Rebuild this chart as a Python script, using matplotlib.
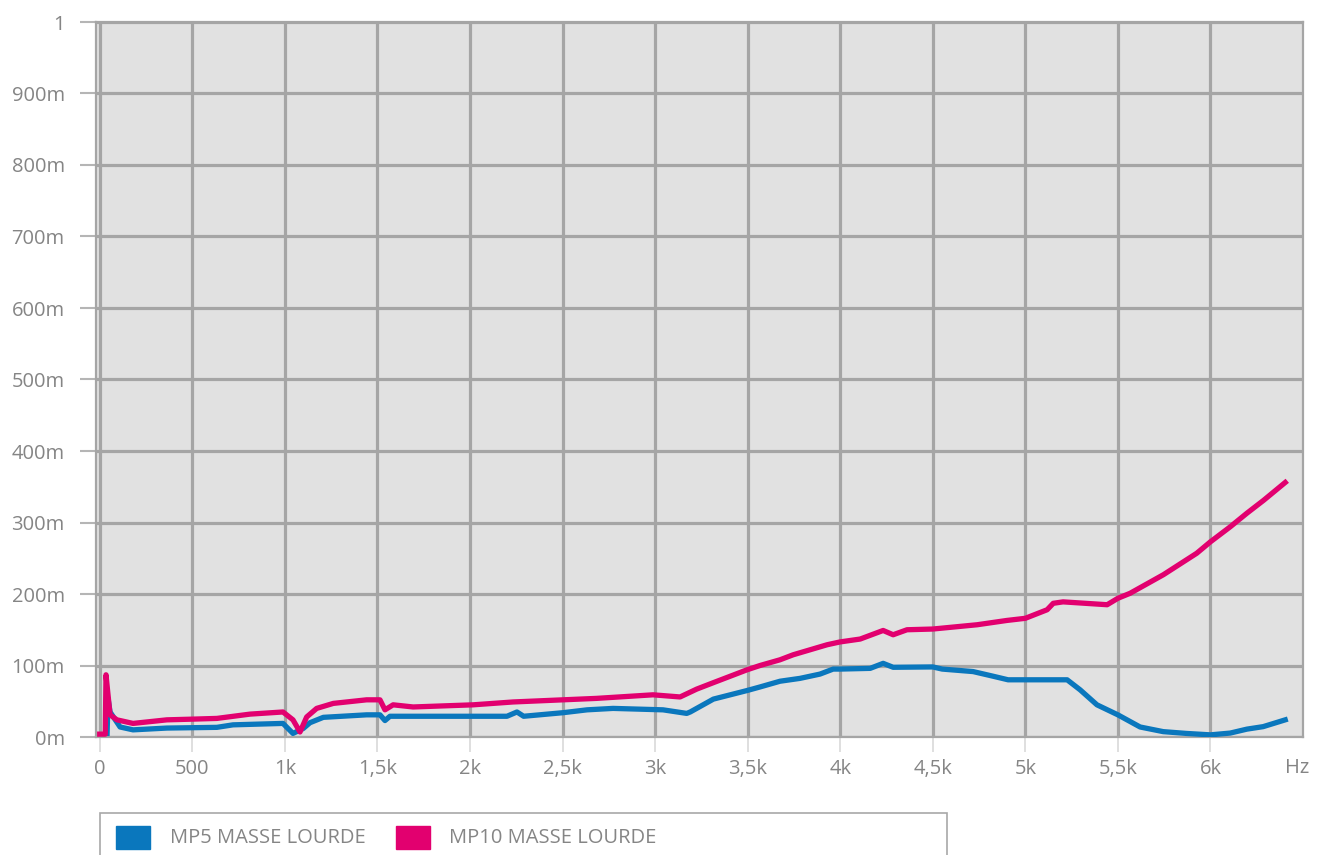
import matplotlib.pyplot as plt
from matplotlib.patches import Rectangle

plt.rcParams['font.family'] = ['Open Sans', 'DejaVu Sans']

# Données (Hz, valeur)
freq_mp5 = [40, 45, 56, 110, 180, 363, 633, 720, 990, 1044,
            1100, 1136, 1208, 1442, 1514, 1541, 1568, 2017, 2200, 2254,
            2290, 2503, 2633, 2773, 3043, 3171, 3190, 3315, 3497, 3567,
            3675, 3783, 3891, 3962, 4000, 4162, 4232, 4286, 4500, 4551,
            4718, 4826, 4907, 5000, 5226, 5296, 5387, 5500, 5620, 5745,
            5870, 6000, 6107, 6197, 6285, 6404]
mp5 = [0.005, 0.054, 0.035, 0.014, 0.010, 0.0125, 0.0135, 0.017, 0.019, 0.005,
       0.012, 0.020, 0.0275, 0.031, 0.031, 0.023, 0.029, 0.029, 0.029, 0.035,
       0.029, 0.034, 0.038, 0.040, 0.038, 0.033, 0.035, 0.053, 0.065, 0.070,
       0.078, 0.082, 0.088, 0.095, 0.095, 0.096, 0.103, 0.0975, 0.098, 0.095,
       0.0915, 0.085, 0.080, 0.080, 0.080, 0.066, 0.045, 0.031, 0.014, 0.0075,
       0.005, 0.003, 0.0055, 0.011, 0.0145, 0.024]

freq_mp10 = [0, 30, 34, 56, 93, 180, 363, 504, 633, 812,
             990, 1044, 1082, 1118, 1172, 1262, 1442, 1514, 1541, 1585,
             1693, 2017, 2233, 2503, 2683, 2989, 3135, 3225, 3315, 3497,
             3567, 3675, 3746, 3929, 4000, 4108, 4232, 4286, 4361, 4500,
             4540, 4740, 4900, 5000, 5118, 5151, 5204, 5442, 5500, 5566,
             5746, 5926, 6000, 6107, 6197, 6287, 6404]
mp10 = [0.004, 0.004, 0.087, 0.031, 0.024, 0.019, 0.024, 0.025, 0.026, 0.032,
        0.035, 0.024, 0.007, 0.028, 0.040, 0.047, 0.052, 0.052, 0.038, 0.045,
        0.042, 0.045, 0.049, 0.052, 0.054, 0.059, 0.056, 0.067, 0.076, 0.094,
        0.100, 0.108, 0.115, 0.129, 0.133, 0.137, 0.149, 0.143, 0.150, 0.151,
        0.152, 0.157, 0.163, 0.166, 0.178, 0.187, 0.189, 0.185, 0.194, 0.201,
        0.227, 0.257, 0.273, 0.294, 0.313, 0.331, 0.356]

series_names = ['MP5 MASSE LOURDE', 'MP10 MASSE LOURDE']
series_colors = ['#0a77bd', '#e2006f']

x_ticks = [0, 500, 1000, 1500, 2000, 2500, 3000, 3500, 4000, 4500, 5000, 5500, 6000]
x_labels = ['0', '500', '1k', '1,5k', '2k', '2,5k', '3k', '3,5k', '4k', '4,5k', '5k', '5,5k', '6k']
y_ticks = [0, 0.1, 0.2, 0.3, 0.4, 0.5, 0.6, 0.7, 0.8, 0.9, 1.0]
y_labels = ['0m', '100m', '200m', '300m', '400m', '500m', '600m', '700m', '800m', '900m', '1']

W, H = 1327, 855
text_col = '#858585'
grid_col = '#a5a5a5'

fig = plt.figure(figsize=(W / 100, H / 100), dpi=100)
ax = fig.add_axes([96 / W, 1 - 737 / H, (1303 - 96) / W, (737 - 22) / H])
ax.set_facecolor('#e1e1e1')

ax.plot(freq_mp5, mp5, color=series_colors[0], lw=3.8, zorder=3)
ax.plot(freq_mp10, mp10, color=series_colors[1], lw=3.8, zorder=4)

ax.set_xlim(-20, 6500)
ax.set_ylim(0, 1)
ax.set_xticks(x_ticks)
ax.set_xticklabels(x_labels)
ax.set_yticks(y_ticks)
ax.set_yticklabels(y_labels)

ax.grid(True, color=grid_col, lw=2.3)
ax.set_axisbelow(True)
for s in ax.spines.values():
    s.set_color(grid_col)
    s.set_linewidth(1.6)

ax.tick_params(axis='y', length=11.5, width=1.5, color='#b5b5b5', pad=11,
               labelsize=14.5, labelcolor=text_col)
ax.tick_params(axis='x', length=11, width=1.2, color='#d9d9d9', pad=5,
               labelsize=14.5, labelcolor=text_col)

fig.text(1297 / W, 1 - 768 / H, 'Hz', ha='center', va='center',
         fontsize=14.5, color=text_col)

# Légende dessinée à la main (cadre coupé en bas)
fig.patches.append(Rectangle((100 / W, 1 - 875 / H), (947 - 100) / W, (875 - 813) / H,
                             transform=fig.transFigure, fill=False,
                             edgecolor='#a8a8a8', lw=1.2))
sq_x = [116, 396]
txt_x = [170, 449]
for name, col, sx, tx in zip(series_names, series_colors, sq_x, txt_x):
    fig.patches.append(Rectangle((sx / W, 1 - 849 / H), 34 / W, 23 / H,
                                 transform=fig.transFigure, color=col))
    fig.text(tx / W, 1 - 838 / H, name, ha='left', va='center',
             fontsize=14.5, color=text_col)

fig.savefig('out.png', dpi=100)
